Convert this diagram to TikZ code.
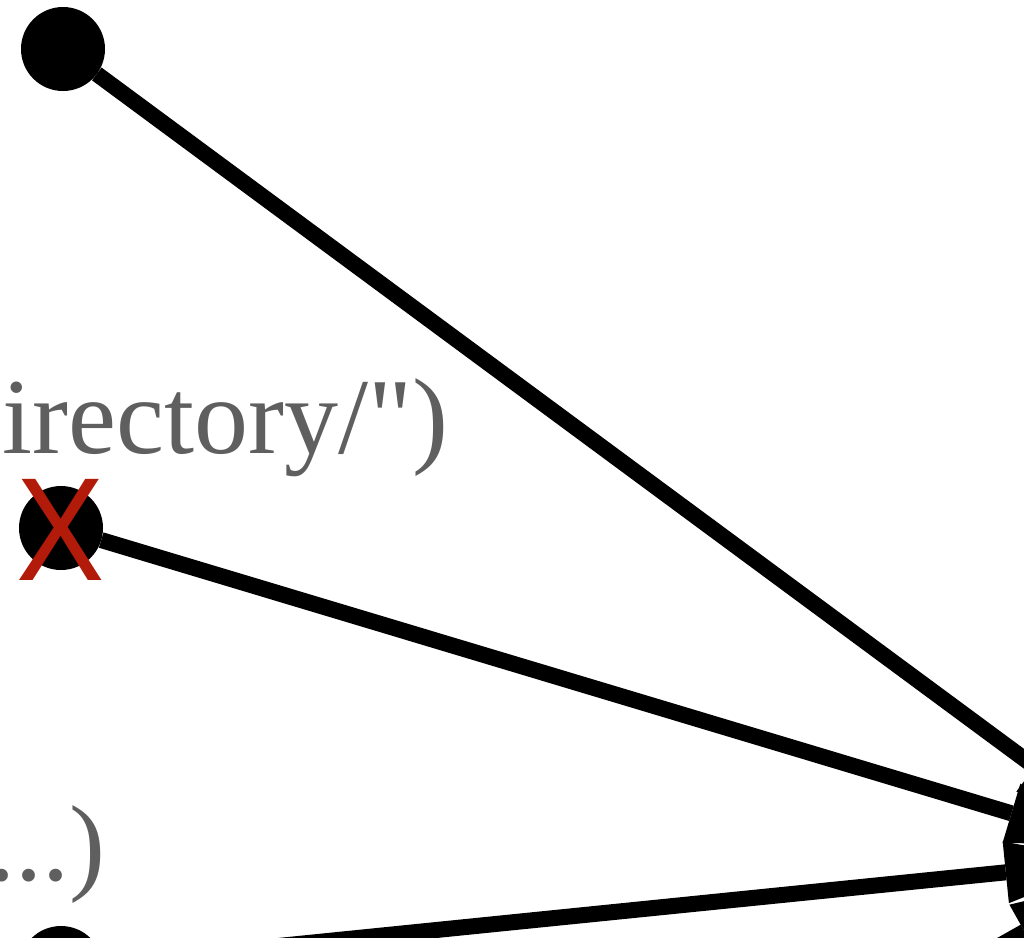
\documentclass[tikz,border=0pt]{standalone}
\usepackage{fontspec}
\setmainfont{Liberation Serif}
\newfontfamily\labelfont{Liberation Serif}[Ligatures=TeXOff]
\newfontfamily\xfont{Liberation Sans}
\usetikzlibrary{arrows.meta}
\definecolor{labelgray}{RGB}{95,95,95}
\definecolor{xred}{RGB}{178,26,10}
\begin{document}
\begin{tikzpicture}[x=1pt,y=-1pt,
  dot/.style={circle,fill=black,inner sep=0pt,outer sep=0pt,minimum size=84pt},
  target/.style={circle,fill=black,inner sep=0pt,outer sep=0pt,minimum size=88pt},
  link/.style={line width=16pt,-{Triangle[length=108pt,width=62pt,line width=0pt]}},
  label/.style={text=labelgray,inner sep=0pt,font=\labelfont\fontsize{108}{120}\selectfont},
  cross/.style={text=xred,inner sep=0pt,font=\xfont\fontsize{147}{150}\selectfont,xscale=0.9}]
\useasboundingbox (0,0) rectangle (1024,937);
\clip (0,0) rectangle (1024,937);
\fill[white] (0,0) rectangle (1024,937);
\node[dot] (s1) at (63,49) {};
\node[dot] (s2) at (61,528) {};
\node[dot] (s3) at (61,968) {};
\node[dot] (s4) at (61,1475) {};
\node[target] (t) at (1157,857) {};
\draw[link] (s1) -- (t);
\draw[link] (s2) -- (t);
\draw[link] (s3) -- (t);
\draw[link] (s4) -- (t);
\node[label,anchor=base east] (l1) at (449,453) {irectory/")};
\node[label,anchor=base east] (l2) at (106,880) {...)};
\node[cross] (x) at (61,530) {X};
\end{tikzpicture}
\end{document}
